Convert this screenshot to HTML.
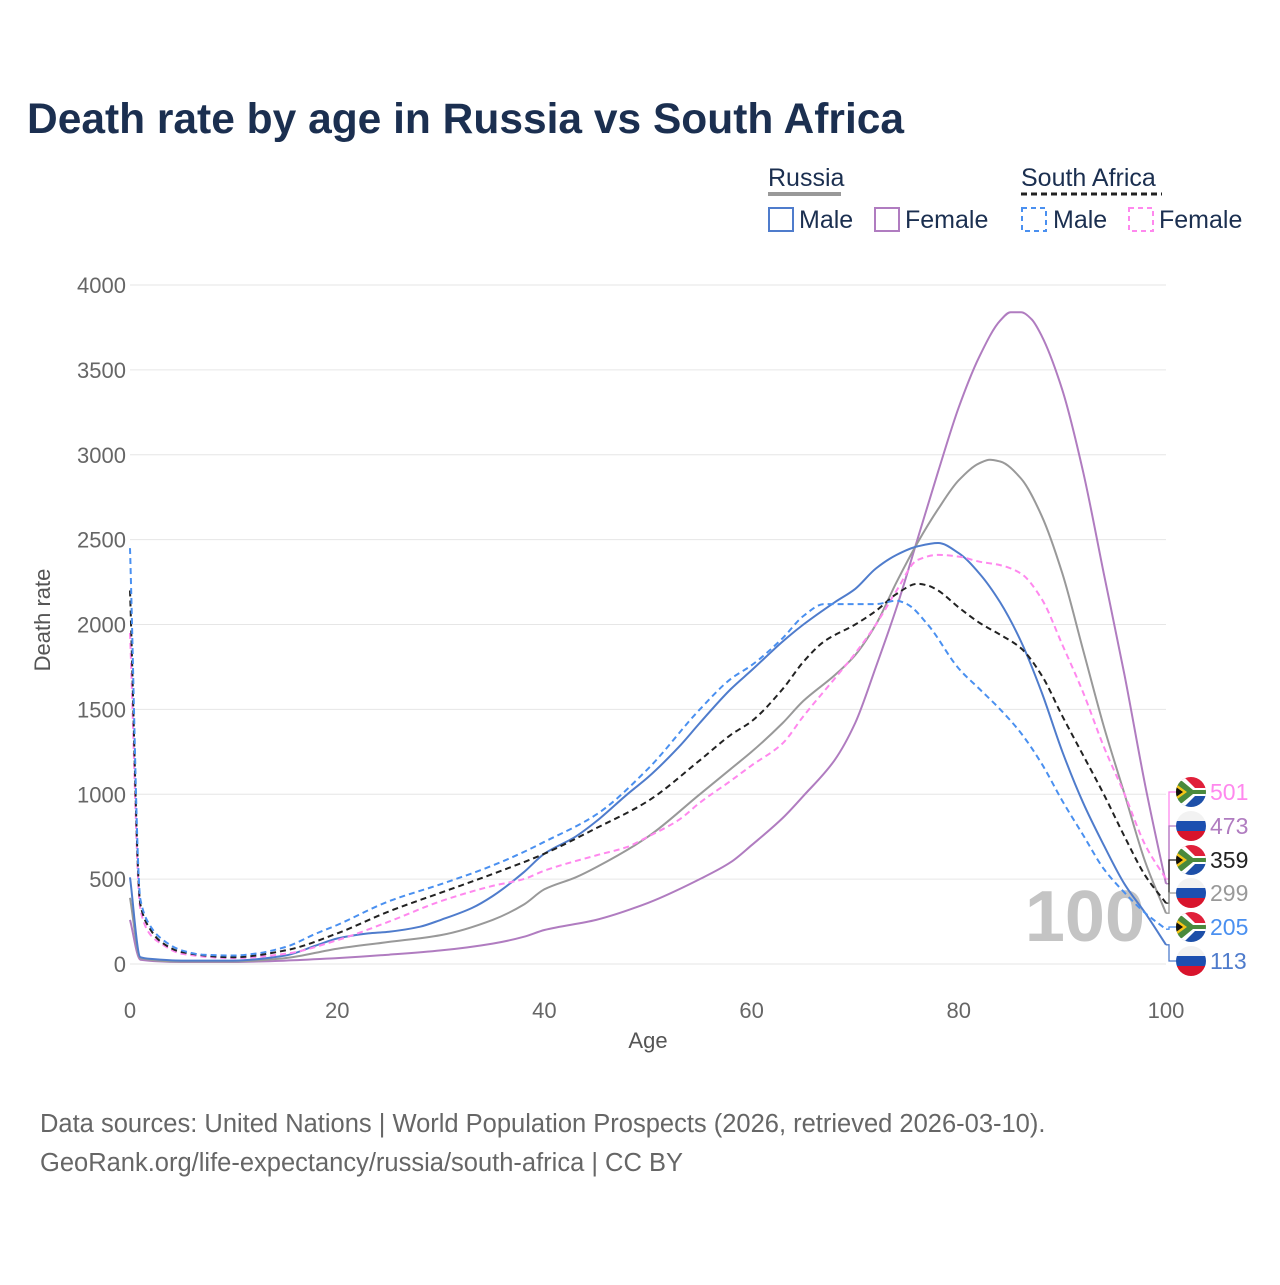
<!DOCTYPE html>
<html><head><meta charset="utf-8">
<style>
html,body{margin:0;padding:0;background:#fff;}
body{width:1280px;height:1280px;overflow:hidden;font-family:"Liberation Sans",sans-serif;}
text{font-family:"Liberation Sans",sans-serif;}
</style></head>
<body>
<svg id="chart" width="1280" height="1280" viewBox="0 0 1280 1280" xmlns="http://www.w3.org/2000/svg">
<defs>
<clipPath id="cflag"><circle cx="0" cy="0" r="15"/></clipPath>
</defs>
<text x="27" y="133" font-size="42.5" font-weight="bold" fill="#1b2f50">Death rate by age in Russia vs South Africa</text>

<g font-size="25" fill="#1b2f50">
 <text x="768" y="186">Russia</text>
 <line x1="768" y1="194" x2="841" y2="194" stroke="#999" stroke-width="4"/>
 <text x="1021" y="186">South Africa</text>
 <line x1="1021" y1="194" x2="1162" y2="194" stroke="#222" stroke-width="3" stroke-dasharray="6,4"/>
 <g><rect x="769" y="208" width="24" height="23" fill="none" stroke="#4f7ccc" stroke-width="2"/><text x="799" y="228">Male</text></g>
 <g><rect x="875" y="208" width="24" height="23" fill="none" stroke="#b07cc0" stroke-width="2"/><text x="905" y="228">Female</text></g>
 <g><rect x="1022" y="208" width="24" height="23" fill="none" stroke="#4a90f0" stroke-width="2" stroke-dasharray="5,4"/><text x="1053" y="228">Male</text></g>
 <g><rect x="1129" y="208" width="24" height="23" fill="none" stroke="#ff88ee" stroke-width="2" stroke-dasharray="5,4"/><text x="1159" y="228">Female</text></g>
</g>

<g id="grid"></g>
<text x="1145" y="941" font-size="72" font-weight="bold" fill="#c4c4c4" text-anchor="end">100</text>
<g id="series"></g>
<g id="endlabels"></g>

<text transform="translate(50,620) rotate(-90)" font-size="22" fill="#555" text-anchor="middle">Death rate</text>
<text x="648" y="1048" font-size="22" fill="#555" text-anchor="middle">Age</text>

<text x="40" y="1132" font-size="25.5" fill="#666">Data sources: United Nations | World Population Prospects (2026, retrieved 2026-03-10).</text>
<text x="40" y="1171" font-size="25.5" fill="#666">GeoRank.org/life-expectancy/russia/south-africa | CC BY</text>
</svg>
<script>
const yTicks=[0,500,1000,1500,2000,2500,3000,3500,4000];
const xTicks=[0,20,40,60,80,100];
const ruMaleAges=[0,1,2,5,10,15,18,20,23,25,28,30,33,35,38,40,43,45,48,50,53,55,58,60,63,65,68,70,72,74,76,78,80,82,84,86,88,90,92,94,96,98,100];
const ruMale=[510,40,30,20,20,50,110,150,180,190,220,260,330,400,540,650,750,840,1000,1100,1280,1420,1620,1730,1900,2000,2130,2210,2330,2410,2460,2480,2420,2300,2130,1900,1600,1250,950,700,470,300,113];
const ruFemaleAges=[0,1,5,10,15,20,25,30,35,38,40,45,50,55,58,60,63,65,68,70,72,74,76,78,80,82,84,85,86,87,88,90,92,94,96,98,100];
const ruFemale=[260,25,12,12,20,35,55,80,120,160,200,260,360,500,600,700,860,990,1200,1420,1750,2100,2500,2900,3280,3580,3790,3840,3840,3800,3700,3380,2900,2300,1700,1050,473];
const ruTotalAges=[0,1,5,10,15,20,25,30,35,38,40,43,45,50,55,58,60,63,65,68,70,72,74,76,78,80,82,83,84,86,88,90,92,94,96,98,100];
const ruTotal=[390,35,15,15,35,90,130,170,260,350,440,510,570,750,1000,1150,1250,1420,1550,1700,1820,2000,2250,2480,2680,2850,2950,2970,2960,2860,2640,2300,1850,1400,1000,600,299];
const saMaleAges=[0,1,2,3,5,7,10,12,15,18,20,25,30,35,38,40,45,50,55,58,60,63,65,67,70,72,74,75,77,80,82,84,86,88,90,92,94,96,98,100];
const saMale=[2450,380,220,150,80,55,50,60,100,180,230,370,470,580,660,720,880,1150,1500,1680,1760,1920,2050,2120,2120,2120,2140,2120,2000,1740,1620,1500,1360,1180,960,760,560,420,300,205];
const saFemaleAges=[0,1,2,3,5,10,15,20,25,30,35,38,40,45,48,50,53,55,58,60,63,65,68,70,72,74,76,78,80,82,84,86,88,90,92,94,96,98,100];
const saFemale=[1950,320,170,120,60,35,60,140,250,370,460,500,550,640,690,750,850,950,1080,1170,1300,1460,1680,1830,2000,2200,2380,2410,2400,2370,2350,2300,2150,1880,1600,1280,1000,700,501];
const saTotalAges=[0,1,2,3,5,10,15,20,25,30,35,40,45,50,55,58,60,63,65,67,70,72,74,76,77,78,80,82,84,86,88,90,92,94,96,98,100];
const saTotal=[2200,350,200,130,70,40,80,180,310,420,530,650,800,960,1200,1350,1430,1620,1780,1900,2000,2080,2180,2240,2230,2200,2100,2010,1940,1860,1700,1460,1230,1000,750,520,359];

const NS='http://www.w3.org/2000/svg';
const X0=130,X1=1166,Y0=964,Y1=285;
function xs(a){return X0+(X1-X0)*a/100;}
function ys(v){return Y0-(Y0-Y1)*v/4000;}
function mk(tag,attrs,parent){const e=document.createElementNS(NS,tag);for(const k in attrs)e.setAttribute(k,attrs[k]);parent.appendChild(e);return e;}

const grid=document.getElementById('grid');
yTicks.forEach(t=>{
 const l=mk('line',{x1:X0,x2:X1,y1:ys(t),y2:ys(t),stroke:'#e6e6e6','stroke-width':1},grid);
 
 
 const tx=mk('text',{x:126,y:ys(t)+8,'font-size':22,fill:'#666','text-anchor':'end'},grid);
 tx.textContent=t;
 
 
});
xTicks.forEach(t=>{
 const tx=mk('text',{x:xs(t),y:1018,'font-size':22,fill:'#666','text-anchor':'middle'},grid);
 tx.textContent=t;
 
 
});

// monotone cubic (Fritsch-Carlson)
function pathD(ages,vals){
 const x=ages.map(xs),y=vals.map(ys),n=x.length;
 const d=[],m=new Array(n);
 for(let i=0;i<n-1;i++)d.push((y[i+1]-y[i])/(x[i+1]-x[i]));
 m[0]=d[0];m[n-1]=d[n-2];
 for(let i=1;i<n-1;i++){
  if(d[i-1]*d[i]<=0)m[i]=0;
  else{const h0=x[i]-x[i-1],h1=x[i+1]-x[i];const w1=2*h1+h0,w2=h1+2*h0;m[i]=(w1+w2)/(w1/d[i-1]+w2/d[i]);}
 }
 let s='M'+x[0].toFixed(1)+','+y[0].toFixed(1);
 for(let i=0;i<n-1;i++){
  const h=(x[i+1]-x[i])/3;
  s+=' C'+(x[i]+h).toFixed(1)+','+(y[i]+m[i]*h).toFixed(1)+' '+(x[i+1]-h).toFixed(1)+','+(y[i+1]-m[i+1]*h).toFixed(1)+' '+x[i+1].toFixed(1)+','+y[i+1].toFixed(1);
 }
 return s;
}
const series=document.getElementById('series');
const defs=[
 ['russia-female-line',ruFemaleAges,ruFemale,'#b07cc0',null],
 ['russia-total-line',ruTotalAges,ruTotal,'#999999',null],
 ['russia-male-line',ruMaleAges,ruMale,'#4f7ccc',null],
 ['sa-female-line',saFemaleAges,saFemale,'#ff88ee','6,4'],
 ['sa-total-line',saTotalAges,saTotal,'#222222','6,4'],
 ['sa-male-line',saMaleAges,saMale,'#4a90f0','6,4']
];
defs.forEach(s=>{
 const a={d:pathD(s[1],s[2]),fill:'none',stroke:s[3],'stroke-width':2};
 if(s[4])a['stroke-dasharray']=s[4];
 const p=mk('path',a,series);
 
 
});

function drawFlag(kind,cx,cy,parent){
 const g=mk('g',{transform:`translate(${cx},${cy})`},parent);
 
 
 const c=mk('g',{'clip-path':'url(#cflag)'},g);
 if(kind==='ru'){
  mk('rect',{x:-15,y:-15,width:30,height:10,fill:'#f2f2f2'},c);
  mk('rect',{x:-15,y:-5,width:30,height:10,fill:'#1c4fb0'},c);
  mk('rect',{x:-15,y:5,width:30,height:10,fill:'#d8142c'},c);
 }else{
  mk('rect',{x:-15,y:-15,width:30,height:15,fill:'#e0203a'},c);
  mk('rect',{x:-15,y:0,width:30,height:15,fill:'#1d4fa8'},c);
  mk('polygon',{points:'-15,-15 -7,-15 4,-4 15,-4 15,4 4,4 -7,15 -15,15',fill:'#fff'},c);
  mk('polygon',{points:'-15,-11 -9,-11 2,-2 15,-2 15,2 2,2 -9,11 -15,11',fill:'#4a8a3c'},c);
  mk('polygon',{points:'-15,-8 -4,0 -15,8',fill:'#f5c518'},c);
  mk('polygon',{points:'-15,-5 -8,0 -15,5',fill:'#111'},c);
 }
}

const end=document.getElementById('endlabels');
const labels=[
 [saFemale[saFemale.length-1],'#ff88ee','za',792],
 [ruFemale[ruFemale.length-1],'#b07cc0','ru',826],
 [saTotal[saTotal.length-1],'#222222','za',860],
 [ruTotal[ruTotal.length-1],'#999999','ru',893],
 [saMale[saMale.length-1],'#4a90f0','za',927],
 [ruMale[ruMale.length-1],'#4f7ccc','ru',961]
];
labels.forEach(l=>{
 const yv=ys(l[0]);
 const pl=mk('polyline',{points:`${X1},${yv.toFixed(1)} ${X1+3},${yv.toFixed(1)} ${X1+3},${l[3]} ${X1+12},${l[3]}`,fill:'none',stroke:l[1],'stroke-width':1.3},end);
 
 
 drawFlag(l[2],1191,l[3],end);
 const t=mk('text',{x:1210,y:l[3]+8,'font-size':23,fill:l[1]},end);
 t.textContent=Math.round(l[0]);
 
 
});
</script>
</body></html>
